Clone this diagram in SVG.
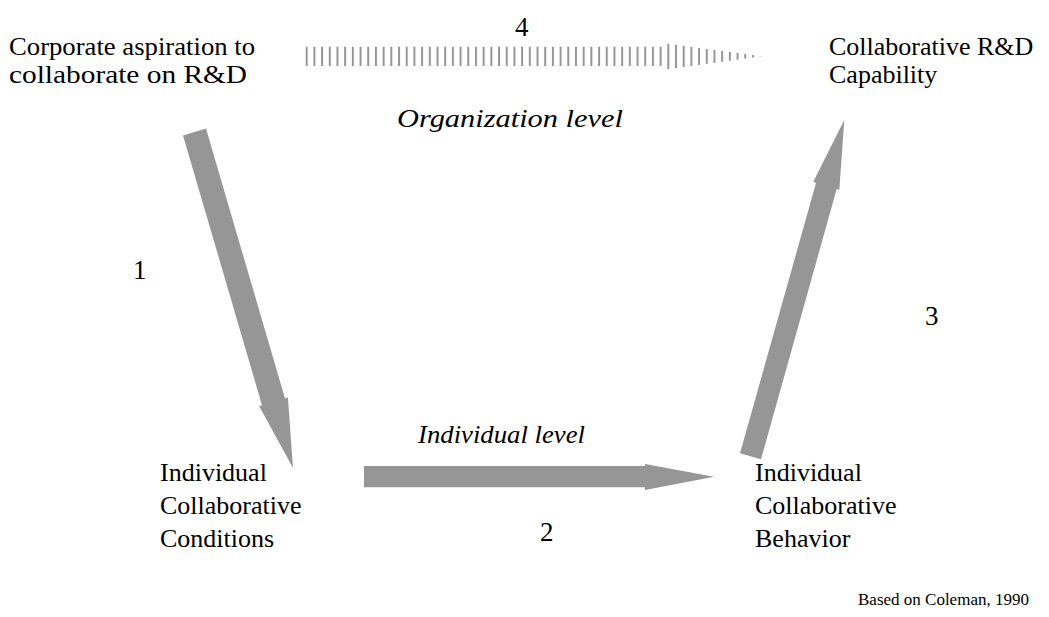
<svg xmlns="http://www.w3.org/2000/svg" width="1049" height="617" viewBox="0 0 1049 617">
<style>
.lbl{font-size:26px;}
.num{font-size:27px;}
.it{font-size:26px;font-style:italic;}
.src{font-size:17px;}
.arrow{fill:#969696;}
</style>
<defs>
<pattern id="stripes" patternUnits="userSpaceOnUse" x="305.7" y="0" width="7.694" height="100">
<rect x="0" y="0" width="2" height="100" fill="#969696"/>
</pattern>
</defs>
<rect width="1049" height="617" fill="#fff"/>
<g id="connectors">
<polygon id="arrow1" class="arrow" points="183,135.4 206,128.6 285,398.4 287.9,397.6 293,468 259.1,406 262,405.2"/>
<polygon id="arrow2" class="arrow" points="364,466 645,466 645,464 714,476.7 645,490 645,487.3 364,487.3"/>
<polygon id="arrow3" class="arrow" points="740,453.3 761,459.3 836.7,189 839.3,190 844.3,120 813.3,181.7 816,183"/>
<polygon id="arrow4" fill="url(#stripes)" points="305,46.7 666,46.7 666,43.5 762,56.3 666,69.5 666,66 305,66"/>
</g>
<g font-family="Liberation Serif, DejaVu Serif, serif" fill="#000">
<g id="node-aspiration">
<text class="lbl" x="9" y="55" textLength="246" lengthAdjust="spacingAndGlyphs">Corporate aspiration to</text>
<text class="lbl" x="9" y="83" textLength="238" lengthAdjust="spacingAndGlyphs">collaborate on R&amp;D</text>
</g>
<g id="node-capability">
<text class="lbl" x="829" y="55">Collaborative R&amp;D</text>
<text class="lbl" x="829" y="83">Capability</text>
</g>
<g id="node-conditions">
<text class="lbl" x="160" y="481">Individual</text>
<text class="lbl" x="160" y="514">Collaborative</text>
<text class="lbl" x="160" y="547">Conditions</text>
</g>
<g id="node-behavior">
<text class="lbl" x="755" y="481">Individual</text>
<text class="lbl" x="755" y="514">Collaborative</text>
<text class="lbl" x="755" y="547">Behavior</text>
</g>
<g id="labels">
<text class="num" x="515" y="36">4</text>
<text class="it" x="397" y="127" textLength="226" lengthAdjust="spacingAndGlyphs">Organization level</text>
<text class="num" x="133" y="279">1</text>
<text class="num" x="925" y="325">3</text>
<text class="it" x="418" y="443" textLength="167" lengthAdjust="spacingAndGlyphs">Individual level</text>
<text class="num" x="540" y="541">2</text>
<text class="src" x="858" y="605">Based on Coleman, 1990</text>
</g>
</g>
</svg>
